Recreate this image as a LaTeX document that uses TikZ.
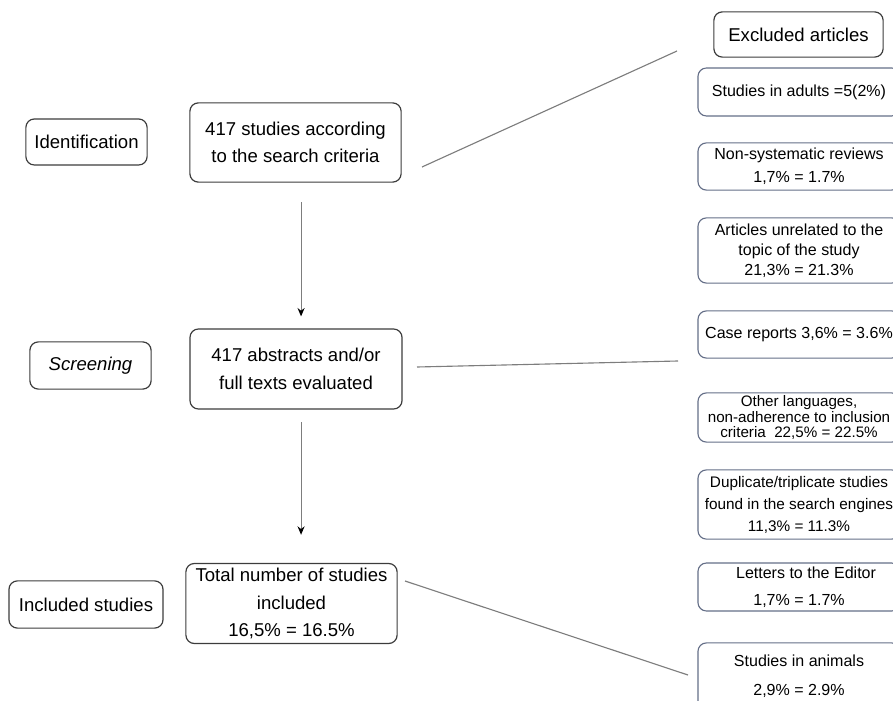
\documentclass[tikz,border=0pt]{standalone}
\usepackage{fontspec}
\setmainfont{Liberation Sans}
\usetikzlibrary{arrows.meta}
\definecolor{boxline}{RGB}{60,60,60}
\definecolor{exclline}{RGB}{100,110,135}
\definecolor{linkgray}{RGB}{125,125,125}

\tikzset{
  stage/.style={draw=boxline, line width=0.85pt, rounded corners=6pt, align=center,
    inner sep=0pt, font=\fontsize{13.2}{19.4}\selectfont},
  reason/.style={draw=exclline, line width=0.8pt, rounded corners=6pt, align=center,
    inner sep=0pt, minimum width=5.05cm, font=\fontsize{11.4}{16.4}\selectfont},
  flow/.style={draw=linkgray, line width=0.8pt, -{Stealth[length=6pt,width=5pt,color=black]}},
  link/.style={draw=linkgray, line width=0.8pt}
}

\begin{document}
\begin{tikzpicture}[x=0.025cm,y=-0.025cm]
        \useasboundingbox (0,0) rectangle (893,701);
        % phases
        \node[stage, minimum width=3.03cm, minimum height=1.15cm] (ident) at (86.5,142) {Identification};
        \node[stage, minimum width=3.03cm, minimum height=1.18cm] (screen) at (90.5,365.5) {\itshape Screening};
        \node[stage, minimum width=3.85cm, minimum height=1.18cm] (incl) at (86,604.5) {Included studies};
        % main boxes
        \node[stage, minimum width=5.28cm, minimum height=1.98cm] (search) at (295.5,142.5) {417 studies according\\to the search criteria};
        \node[stage, minimum width=5.3cm, minimum height=2cm] (abstracts) at (296,369) {417 abstracts and/or\\full texts evaluated};
        \node[stage, minimum width=5.28cm, minimum height=2cm, font=\fontsize{13.2}{19.6}\selectfont] (total) at (291.5,603.5) {Total number of studies\\included\\16,5\% = 16.5\%};
        % excluded articles
        \node[stage, minimum width=4.23cm, minimum height=1.13cm] (excl) at (798.5,34.5) {Excluded articles};
        \node[reason, minimum height=1.2cm] (adults) at (799,92) {Studies in adults =5(2\%)};
        \node[reason, minimum height=1.18cm] (nonsys) at (799,166.5) {Non-systematic reviews\\1,7\% = 1.7\%};
        \node[reason, minimum height=1.63cm, font=\fontsize{11.4}{14.2}\selectfont] (unrelated) at (799,250.5) {Articles unrelated to the\\topic of the study\\21,3\% = 21.3\%};
        \node[reason, minimum height=1.18cm] (case) at (799,334.5) {Case reports 3,6\% = 3.6\%};
        \node[reason, minimum height=1.23cm, font=\fontsize{10.8}{10.7}\selectfont] (other) at (799,417.5) {Other languages,\\non-adherence to inclusion\\criteria\ \ 22,5\% = 22.5\%};
        \node[reason, minimum height=1.73cm, font=\fontsize{10.9}{15.6}\selectfont] (dup) at (799,504.5) {Duplicate/triplicate studies\\found in the search engines\\11,3\% = 11.3\%};
        \node[reason, minimum height=1.2cm, font=\fontsize{11.4}{19.2}\selectfont] (letters) at (799,587) {\hspace*{10pt}Letters to the Editor\\1,7\% = 1.7\%};
        \node[reason, minimum height=1.68cm, font=\fontsize{11.4}{20.6}\selectfont] (animals) at (799,676.5) {Studies in animals\\2,9\% = 2.9\%};
        % link ends
        \coordinate (l1a) at (422,167);
        \coordinate (l1b) at (677,51);
        \coordinate (l2a) at (417,367);
        \coordinate (l2b) at (678,361);
        \coordinate (l3a) at (405,581);
        \coordinate (l3b) at (688,675);
        \draw[flow, shorten <=14pt, shorten >=8.5pt] ([xshift=3.6pt]abstracts.north |- search.south) -- ([xshift=3.6pt]abstracts.north);
        \draw[flow, shorten <=9pt, shorten >=20pt] ([xshift=3.6pt]abstracts.south) -- ([xshift=3.6pt]abstracts.south |- total.north);
        \draw[link] (l1a) -- (l1b);
        \draw[link] (l2a) -- (l2b);
        \draw[link] (l3a) -- (l3b);
    \end{tikzpicture}
\end{document}
